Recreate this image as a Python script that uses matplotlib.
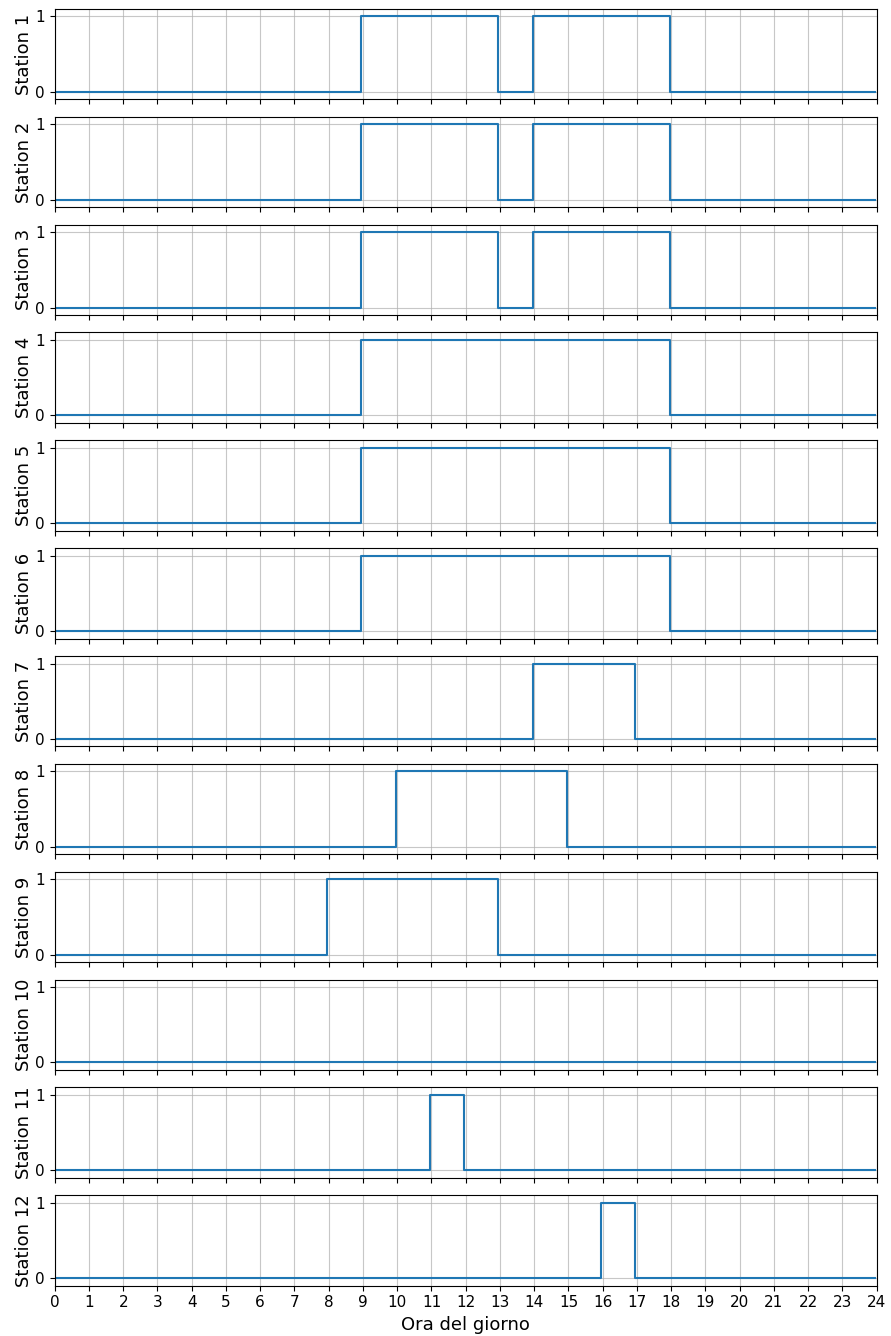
import numpy as np
import matplotlib
matplotlib.use("Agg")
import matplotlib.pyplot as plt

# On-periods (start hour, end hour) for each station
stations = ["Station %d" % i for i in range(1, 13)]
on_periods = [
    [(9, 13), (14, 18)],
    [(9, 13), (14, 18)],
    [(9, 13), (14, 18)],
    [(9, 18)],
    [(9, 18)],
    [(9, 18)],
    [(14, 17)],
    [(10, 15)],
    [(8, 13)],
    [],
    [(11, 12)],
    [(16, 17)],
]

# 3-minute sampling over the day
step_min = 3
t = np.arange(0, 24 * 60, step_min) / 60.0

fig, axs = plt.subplots(len(stations), 1, figsize=(8.91, 13.36), sharex=True)
fig.subplots_adjust(left=0.0614, right=0.984, top=0.9933, bottom=0.0377, hspace=0.193)

for ax, name, periods in zip(axs, stations, on_periods):
    state = np.zeros_like(t)
    for start, end in periods:
        state[(t >= start) & (t < end)] = 1
    ax.plot(t, state, drawstyle="steps-pre", color="tab:blue", linewidth=1.5)
    ax.set_ylim(-0.1, 1.1)
    ax.set_yticks([0, 1])
    ax.set_ylabel(name, fontsize=13, labelpad=2)
    ax.grid(True, alpha=0.7)
    ax.tick_params(labelsize=11)

axs[-1].set_xlim(0, 24)
axs[-1].set_xticks(np.arange(0, 25, 1))
axs[-1].set_xlabel("Ora del giorno", fontsize=13)

fig.savefig("out.png", dpi=100)
